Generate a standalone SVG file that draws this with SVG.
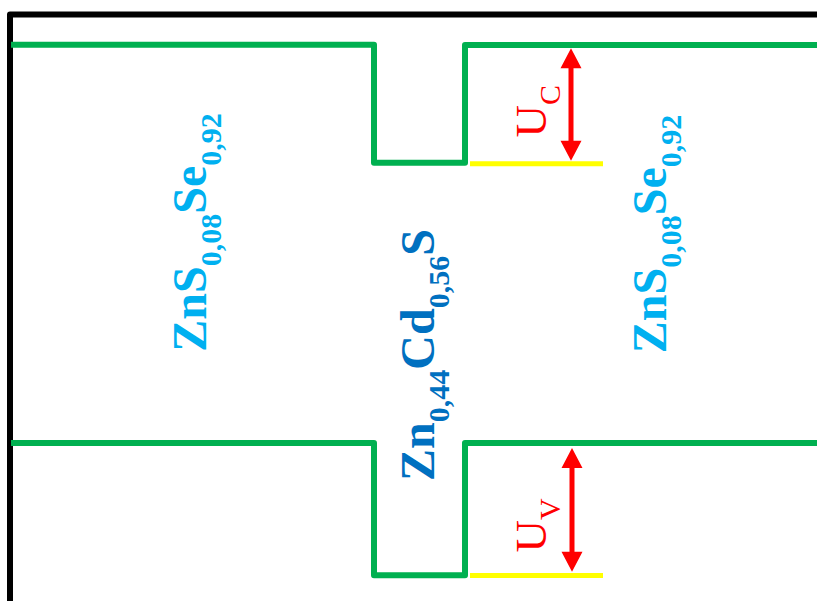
<svg xmlns="http://www.w3.org/2000/svg" width="817" height="601" viewBox="0 0 817 601">
<style>
.frame{fill:none;stroke:#000;stroke-width:6;stroke-linejoin:round}
.band{fill:none;stroke:#00B050;stroke-width:6;stroke-linejoin:round}
.lvl{stroke:#FFFF00;stroke-width:5}
.arr{fill:#FF0000}
.mat{font-family:"Liberation Serif","Times New Roman",serif;font-weight:bold;font-size:48px}
.lt{fill:#00B0F0}
.dk{fill:#0070C0}
.u{font-family:"Liberation Serif","Times New Roman",serif;font-size:45px;fill:#FF0000}
.sub{font-size:30px}
.usub{font-size:30px}
</style>
<rect width="817" height="601" fill="#fff"/>
<g id="frame"><path class="frame" d="M10,601 V14.5 H820"/></g>
<g id="connectors">
<path class="band" d="M11,44.7 H374 V162.7 H465 V45 H820"/>
<path class="band" d="M11,443 H374 V575.3 H465 V443 H820"/>
<line class="lvl" x1="470" y1="163.8" x2="603" y2="163.8"/>
<line class="lvl" x1="470" y1="575.5" x2="603" y2="575.5"/>
<path class="arr" d="M571,48.3 L581.5,68.3 L573.5,68.3 L573.5,140.7 L581.5,140.7 L571,160.7 L560.5,140.7 L568.5,140.7 L568.5,68.3 L560.5,68.3 Z"/>
<path class="arr" d="M572,448 L582.5,468 L574.5,468 L574.5,551.7 L582.5,551.7 L572,571.7 L561.5,551.7 L569.5,551.7 L569.5,468 L561.5,468 Z"/>
</g>
<g id="label-left"><text class="mat lt" transform="translate(206,232.5) rotate(-90)" text-anchor="middle">ZnS<tspan class="sub" dy="15">0,08</tspan><tspan dy="-15">Se</tspan><tspan class="sub" dy="15">0,92</tspan></text></g>
<g id="label-mid"><text class="mat dk" transform="translate(434,355) rotate(-90)" text-anchor="middle">Zn<tspan class="sub" dy="15">0,44</tspan><tspan dy="-15">Cd</tspan><tspan class="sub" dy="15">0,56</tspan><tspan dy="-15">S</tspan></text></g>
<g id="label-right"><text class="mat lt" transform="translate(666,234) rotate(-90)" text-anchor="middle">ZnS<tspan class="sub" dy="15">0,08</tspan><tspan dy="-15">Se</tspan><tspan class="sub" dy="15">0,92</tspan></text></g>
<g id="label-uc"><text class="u" transform="translate(546,137.5) rotate(-90)">U<tspan class="usub" dy="14">C</tspan></text></g>
<g id="label-uv"><text class="u" transform="translate(546,552.5) rotate(-90)">U<tspan class="usub" dy="14">V</tspan></text></g>
</svg>
